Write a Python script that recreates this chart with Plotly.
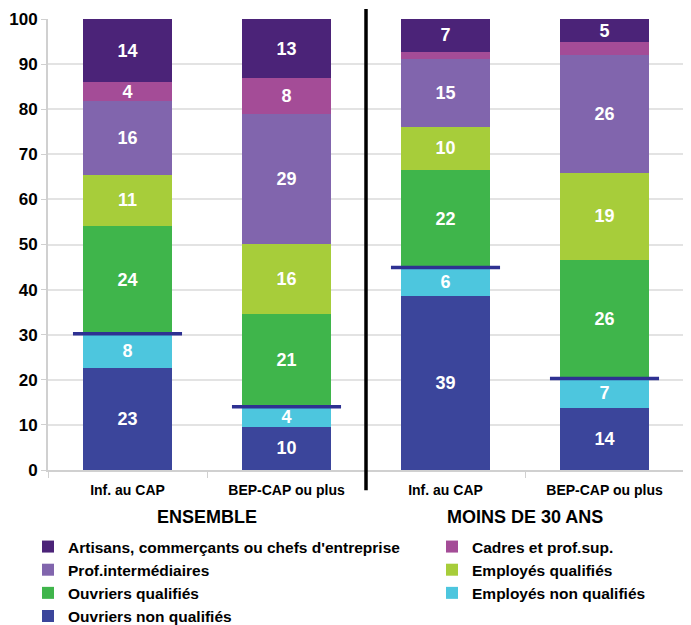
import plotly.graph_objects as go

categories = ["Inf. au CAP", "BEP-CAP ou plus", "Inf. au CAP ", "BEP-CAP ou plus "]
tick_labels = ["Inf. au CAP", "BEP-CAP ou plus", "Inf. au CAP", "BEP-CAP ou plus"]
group_labels = ["ENSEMBLE", "MOINS DE 30 ANS"]

ouvriers_non_qualifies = [22.6, 9.6, 38.6, 13.7]
employes_non_qualifies = [7.6, 4.4, 6.3, 6.6]
ouvriers_qualifies = [24.0, 20.6, 21.6, 26.3]
employes_qualifies = [11.2, 15.6, 9.6, 19.3]
prof_intermediaires = [16.4, 28.8, 15.0, 26.1]
cadres = [4.2, 7.9, 1.6, 2.9]
artisans = [14.0, 13.1, 7.3, 5.1]

series = [
    ("Ouvriers non qualifiés", ouvriers_non_qualifies, "#3b459b", "legend", 7),
    ("Employés non qualifiés", employes_non_qualifies, "#4dc6de", "legend2", 6),
    ("Ouvriers qualifiés", ouvriers_qualifies, "#3fb54b", "legend", 5),
    ("Employés qualifiés", employes_qualifies, "#a7cd3a", "legend2", 4),
    ("Prof.intermédiaires", prof_intermediaires, "#8165ad", "legend", 3),
    ("Cadres et prof.sup.", cadres, "#a44c97", "legend2", 2),
    ("Artisans, commerçants ou chefs d'entreprise", artisans, "#4b2378", "legend", 1),
]

FONT = "Arial, Liberation Sans, sans-serif"

fig = go.Figure()
for name, vals, color, leg, rank in series:
    fig.add_trace(go.Bar(
        x=categories, y=vals, name=name,
        marker=dict(color=color, line=dict(width=0)),
        text=[f"{round(v)}" if v >= 3 else "" for v in vals],
        textposition="inside", insidetextanchor="middle", textangle=0,
        textfont=dict(color="white", size=18, family=FONT, weight="bold"),
        constraintext="none",
        legend=leg, legendgroup=name, legendrank=rank,
        hoverinfo="skip",
    ))

# "non qualifiés" threshold lines
for i in range(len(categories)):
    yv = ouvriers_non_qualifies[i] + employes_non_qualifies[i]
    fig.add_shape(type="line", xref="x", yref="y",
                  x0=i - 0.343, x1=i + 0.343, y0=yv, y1=yv,
                  line=dict(color="#2e3192", width=3.5))

# group separator
fig.add_shape(type="line", xref="x", yref="paper", x0=1.5, x1=1.5,
              y0=-0.045, y1=1.022, line=dict(color="black", width=3.5))

for j, g in enumerate(group_labels):
    fig.add_annotation(x=0.5 + 2 * j, xref="x", y=-0.104, yref="paper",
                       text=g, showarrow=False, yanchor="middle",
                       font=dict(size=18, family=FONT, color="black", weight="bold"))

legfont = dict(size=15.5, family=FONT, color="black", weight="bold")
fig.update_layout(
    width=683, height=617,
    margin=dict(l=40, r=7, t=11, b=155, autoexpand=False),
    barmode="stack", bargap=0.44,
    plot_bgcolor="white", paper_bgcolor="white",
    uniformtext=dict(minsize=18, mode="show"),
    showlegend=True,
    legend=dict(xref="container", yref="container", x=0.0293, y=0.1540,
                xanchor="left", yanchor="top",
                orientation="v", traceorder="grouped", tracegroupgap=0,
                font=legfont, bgcolor="rgba(0,0,0,0)"),
    legend2=dict(xref="container", yref="container", x=0.6208, y=0.1540,
                 xanchor="left", yanchor="top",
                 orientation="v", traceorder="grouped", tracegroupgap=0,
                 font=legfont, bgcolor="rgba(0,0,0,0)"),
    xaxis=dict(type="category", tickmode="array", tickvals=categories,
               ticktext=tick_labels, showline=True, linecolor="#d0d0d0",
               linewidth=2, ticks="outside", tickson="boundaries",
               ticklen=6, tickcolor="#d0d0d0", showgrid=False, automargin=False,
               ticklabelstandoff=6,
               tickfont=dict(size=14, family=FONT, color="black", weight="bold")),
    yaxis=dict(range=[0, 100], dtick=10, showgrid=True, gridcolor="#e3e3e3",
               gridwidth=1.5, showline=True, linecolor="#d0d0d0", linewidth=2,
               mirror=True, ticks="outside", ticklen=5, tickcolor="#d0d0d0",
               zeroline=False, automargin=False,
               tickfont=dict(size=17, family=FONT, color="black", weight="bold")),
)

fig.write_html("out.html")
